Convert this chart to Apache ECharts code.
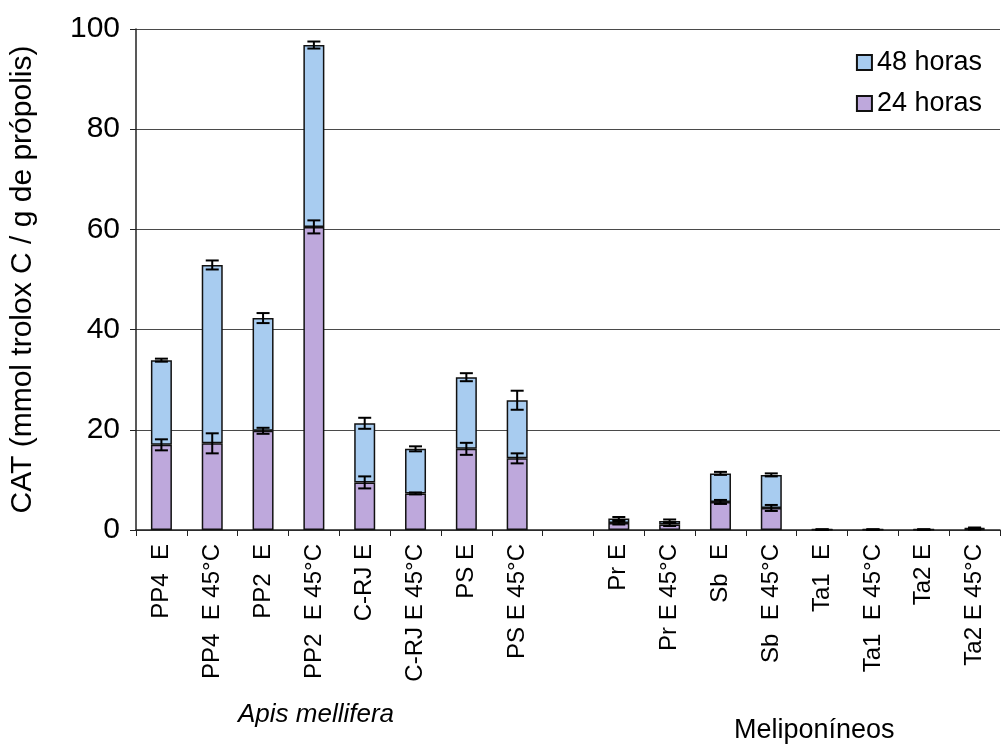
<!DOCTYPE html>
<html>
<head>
<meta charset="utf-8">
<script src="https://cdn.jsdelivr.net/npm/echarts@6/dist/echarts.min.js"></script>
<style>
  html, body { margin: 0; padding: 0; background: #fff; }
  #chart { width: 1001px; height: 747px; }
</style>
</head>
<body>
<div id="chart"></div>
<script>
// Propolis extracts (the empty slot separates the two bee groups)
const categories = [
  'PP4  E', 'PP4  E 45°C', 'PP2  E', 'PP2  E 45°C',
  'C-RJ E', 'C-RJ E 45°C', 'PS E', 'PS E 45°C',
  '',
  'Pr E', 'Pr E 45°C', 'Sb  E', 'Sb  E 45°C',
  'Ta1  E', 'Ta1  E 45°C', 'Ta2 E', 'Ta2 E 45°C'
];

// CAT after 24 h (bottom segment)
const horas24 = [17.0, 17.3, 19.8, 60.5, 9.5, 7.3, 16.2, 14.3, null, 1.4, 1.1, 5.6, 4.4, 0.05, 0.05, 0.05, 0.2];
// additional CAT reached at 48 h (top segment)
const horas48 = [16.9, 35.6, 22.5, 36.3, 11.8, 8.9, 14.3, 11.6, null, 0.9, 0.7, 5.7, 6.6, 0.05, 0.05, 0.05, 0.2];

// standard deviations drawn as error bars at the top of each segment
const err24 = [1.1, 2.0, 0.6, 1.3, 1.2, 0.2, 1.2, 1.0, null, 0.3, 0.3, 0.4, 0.6, 0, 0, 0, 0.1];
const err48 = [0.3, 0.9, 1.0, 0.7, 1.1, 0.5, 0.8, 1.9, null, 0.3, 0.3, 0.3, 0.3, 0, 0, 0, 0.1];

const yTicks = [0, 20, 40, 60, 80, 100];

const color24 = '#bea8dc';
const color48 = '#a8ccf0';

// error bar points: [category index, segment top, sd]
const errPoints24 = [];
const errPoints48 = [];
categories.forEach((c, i) => {
  if (horas24[i] == null) return;
  errPoints24.push([i, horas24[i], err24[i]]);
  errPoints48.push([i, horas24[i] + horas48[i], err48[i]]);
});

function renderErr(params, api) {
  const i = api.value(0), v = api.value(1), e = api.value(2);
  const hi = api.coord([i, v + e]);
  const lo = api.coord([i, v - e]);
  const cap = 6.5;
  const style = { stroke: '#000', lineWidth: 2 };
  return {
    type: 'group',
    children: [
      { type: 'line', shape: { x1: hi[0], y1: hi[1], x2: lo[0], y2: lo[1] }, style },
      { type: 'line', shape: { x1: hi[0] - cap, y1: hi[1], x2: hi[0] + cap, y2: hi[1] }, style },
      { type: 'line', shape: { x1: lo[0] - cap, y1: lo[1], x2: lo[0] + cap, y2: lo[1] }, style }
    ]
  };
}

const font = 'Liberation Sans, Arial, sans-serif';
const chart = echarts.init(document.getElementById('chart'), null, { renderer: 'canvas' });

chart.setOption({
  animation: false,
  textStyle: { fontFamily: font, color: '#000' },
  grid: { left: 133, right: 1, top: 29, bottom: 217, containLabel: false },
  legend: {
    data: ['48 horas', '24 horas'],
    orient: 'vertical',
    right: 14,
    top: 44,
    itemWidth: 15,
    itemHeight: 15,
    itemGap: 14,
    icon: 'rect',
    textStyle: { fontSize: 27, color: '#000', fontFamily: font }
  },
  xAxis: {
    type: 'category',
    data: categories,
    boundaryGap: true,
    axisLine: { lineStyle: { color: '#222', width: 1.5 } },
    axisTick: { show: true, length: 6, interval: 0, lineStyle: { color: '#222' } },
    axisLabel: {
      interval: 0, rotate: 90, margin: 14,
      fontSize: 24, color: '#000', fontFamily: font
    }
  },
  yAxis: {
    type: 'value',
    min: 0, max: 100, interval: 20,
    name: 'CAT (mmol trolox C / g de própolis)',
    nameLocation: 'middle',
    nameGap: 98,
    nameTextStyle: { fontSize: 30, color: '#000', fontFamily: font },
    axisLine: { show: true, lineStyle: { color: '#222', width: 1.5 } },
    axisTick: { show: true, length: 6, lineStyle: { color: '#222' } },
    axisLabel: {
      fontSize: 30, margin: 16, color: '#000', fontFamily: font,
      formatter: v => (yTicks.includes(v) ? String(v) : '')
    },
    splitLine: { lineStyle: { color: '#4a4a4a', width: 1.2 } }
  },
  series: [
    {
      name: '24 horas', type: 'bar', stack: 'cat', data: horas24,
      barWidth: 21,
      itemStyle: { color: color24, borderColor: '#111', borderWidth: 1.5 }
    },
    {
      name: '48 horas', type: 'bar', stack: 'cat', data: horas48,
      barWidth: 21,
      itemStyle: { color: color48, borderColor: '#111', borderWidth: 1.5 }
    },
    { type: 'custom', renderItem: renderErr, data: errPoints24, z: 5, silent: true },
    { type: 'custom', renderItem: renderErr, data: errPoints48, z: 5, silent: true }
  ],
  graphic: [
    {
      type: 'text', left: 238, top: 702,
      style: { text: 'Apis mellifera', fontSize: 26, fontStyle: 'italic', fontFamily: font, fill: '#000' }
    },
    {
      type: 'text', left: 734, top: 717,
      style: { text: 'Meliponíneos', fontSize: 27, fontFamily: font, fill: '#000' }
    }
  ]
});
</script>
</body>
</html>
